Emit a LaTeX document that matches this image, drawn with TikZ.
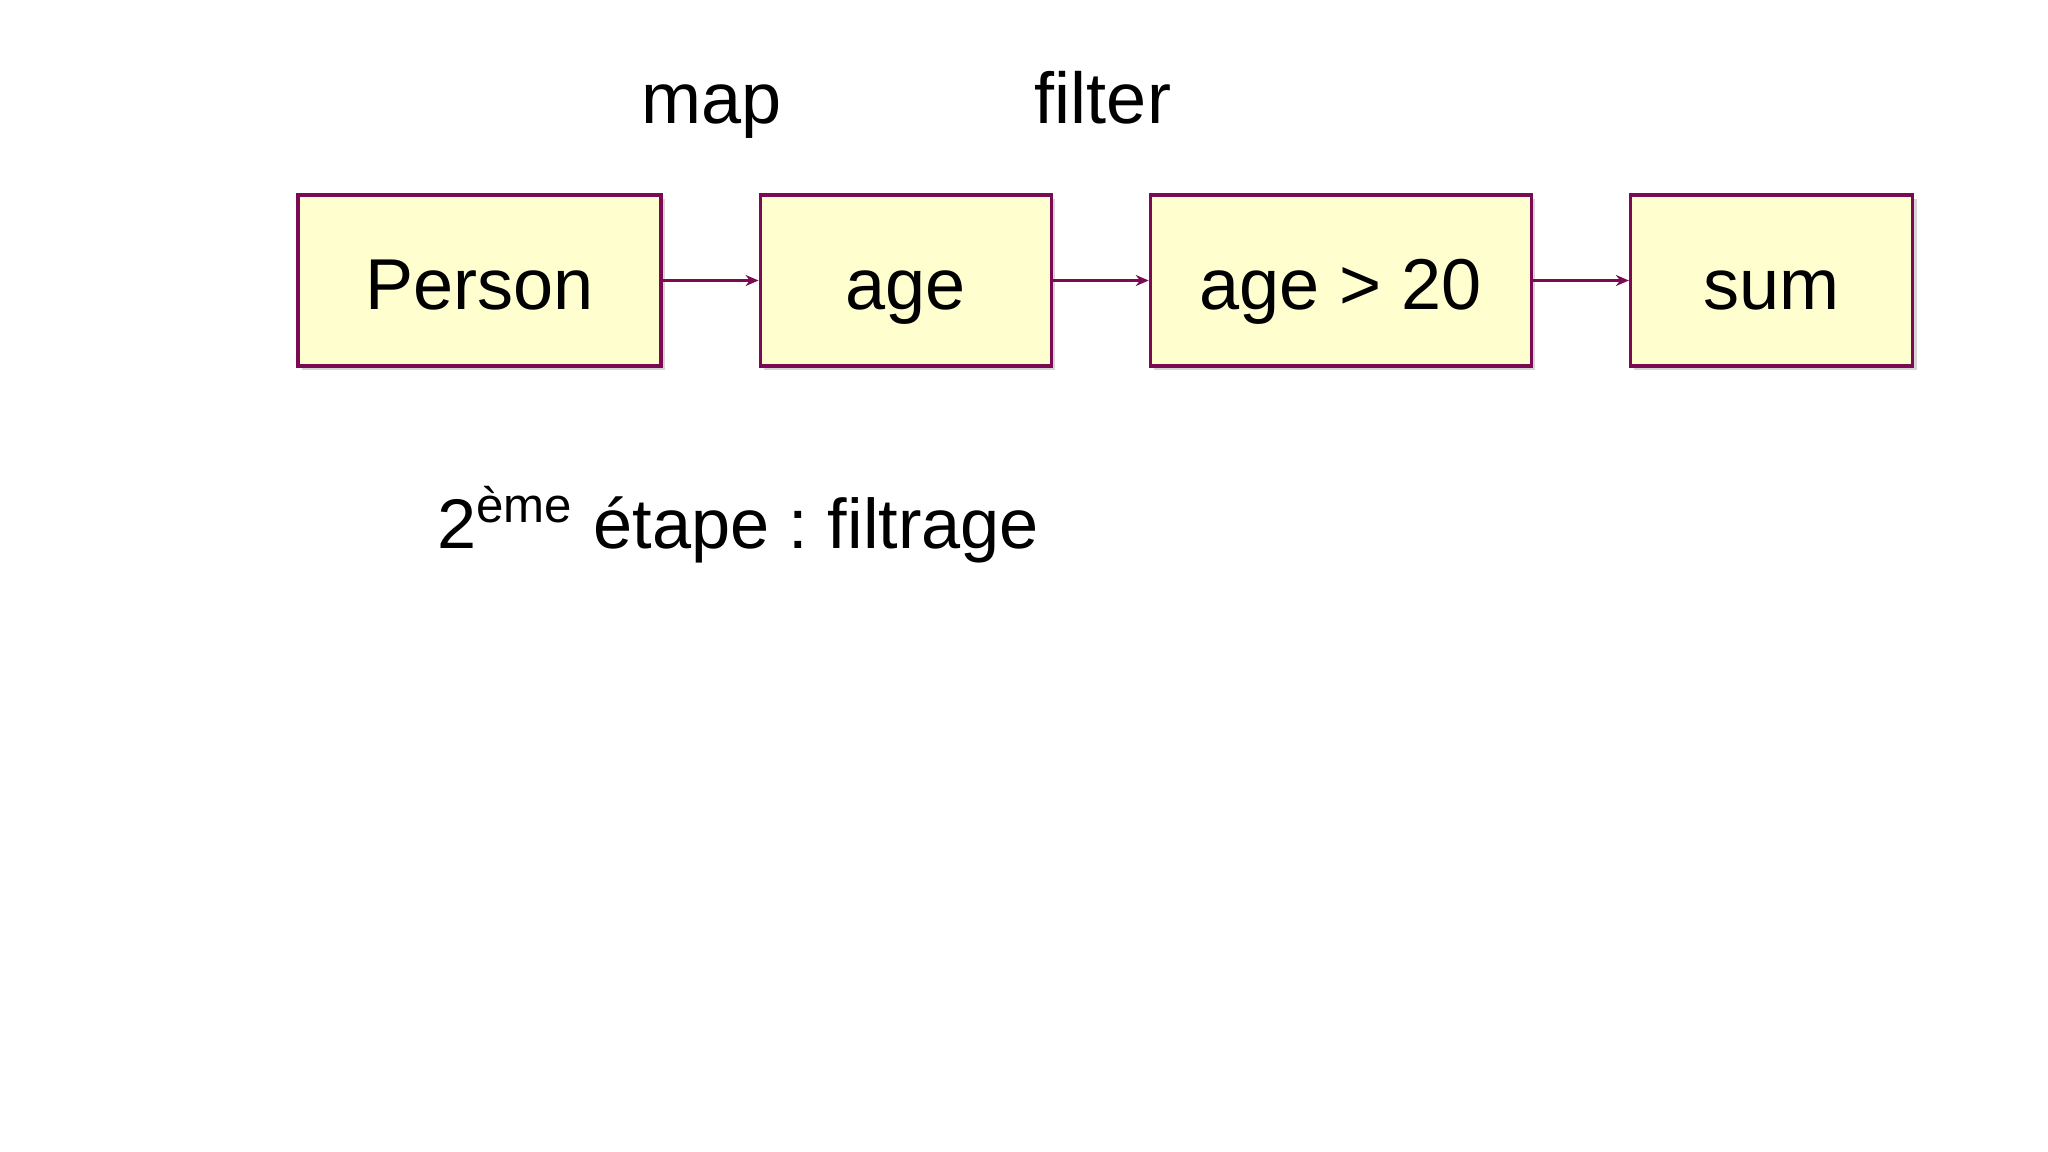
\documentclass[tikz,border=0pt]{standalone}
\usepackage{fontspec}
\setmainfont{Liberation Sans}
\usetikzlibrary{positioning,arrows.meta,shadows}
\definecolor{umlborder}{RGB}{122,10,82}
\definecolor{umlfill}{RGB}{254,254,206}
\frenchspacing

\begin{document}
\begin{tikzpicture}[node distance=0.96cm, auto,
	stage/.style={draw=umlborder, line width=0.9pt, fill=umlfill, minimum height=1.71cm,
		text height=0.68cm, text depth=0.1cm, font=\fontsize{20.5}{24}\selectfont,
		drop shadow={shadow xshift=0.04cm, shadow yshift=-0.04cm, fill=black!40, opacity=0.4}},
	flow/.style={draw=umlborder, line width=0.8pt, -{Stealth[length=0.13cm, width=0.11cm]}},
	lbl/.style={anchor=base, font=\fontsize{20.5}{24}\selectfont}]
	\useasboundingbox (0,0) rectangle (20.48,-11.52);
	\node[stage, minimum width=3.63cm] (person) at (4.795,-2.805) {Person};
	\node[stage, minimum width=2.91cm, right=of person] (age) {age};
	\node[stage, minimum width=3.81cm, right=of age] (filt) {age > 20};
	\node[stage, minimum width=2.82cm, right=of filt] (sum) {sum};
	\draw[flow] (person) -- (age);
	\draw[flow] (age) -- (filt);
	\draw[flow] (filt) -- (sum);
	\node[lbl] (maplbl) at (7.12,-1.24) {map};
	\node[lbl] (filterlbl) at (11.03,-1.24) {filter};
	\node[lbl, anchor=base west, font=\fontsize{20}{24}\selectfont] (step) at (4.25,-5.49) {2\textsuperscript{ème} étape : filtrage};
\end{tikzpicture}
\end{document}
